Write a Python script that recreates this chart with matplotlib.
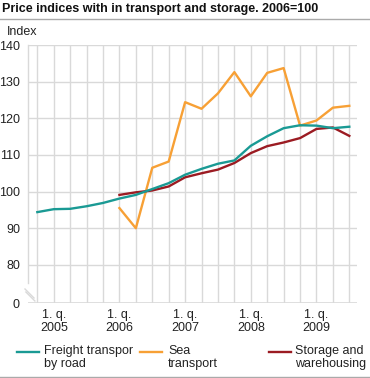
import numpy as np
import matplotlib.pyplot as plt
from matplotlib.lines import Line2D

plt.rcParams['font.family'] = ['Liberation Sans', 'DejaVu Sans']

# quarters 2004 Q4 .. 2009 Q3
quarters = list(range(20))
tick_pos = [1, 5, 9, 13, 17]
tick_labels = ["1. q.\n2005", "1. q.\n2006", "1. q.\n2007", "1. q.\n2008", "1. q.\n2009"]

freight = [94.4, 95.2, 95.3, 96.0, 96.9, 98.1, 99.1, 100.7, 102.3, 104.6,
           106.2, 107.6, 108.5, 112.5, 115.1, 117.3, 118.1, 118.0, 117.3, 117.7]
sea = [95.5, 90.0, 106.5, 108.2, 124.4, 122.6, 126.8, 132.6, 126.0, 132.4,
       133.7, 118.0, 119.4, 122.9, 123.4]
storage = [99.1, 99.8, 100.3, 101.4, 103.9, 105.0, 106.0, 107.8, 110.5, 112.4,
           113.4, 114.6, 117.1, 117.5, 115.2]
sea_x = quarters[5:]

ZERO = 69.6   # where "0" sits below the axis break
yticks = [ZERO, 80, 90, 100, 110, 120, 130, 140]
ylabels = ["0", "80", "90", "100", "110", "120", "130", "140"]

c_freight = "#1a9a94"
c_sea = "#f7a035"
c_storage = "#9b1b22"
grid_c = "#d9d9d9"

W, H = 370, 378
fig = plt.figure(figsize=(W / 100, H / 100), dpi=100)

def fx(px):
    return px / W

def fy(py):
    return 1 - py / H

ax = fig.add_axes([fx(28.3), fy(303), fx(356.7) - fx(28.3), fy(45) - fy(303)])
ax.set_xlim(-0.55, 19.45)
ax.set_ylim(ZERO, 140)
for s in ax.spines.values():
    s.set_visible(False)

for q in quarters:
    ax.axvline(q, color=grid_c, lw=1.0, zorder=0)
for v in yticks[1:]:
    ax.axhline(v, color=grid_c, lw=1.0, zorder=0)
ax.axhline(ZERO, color=grid_c, lw=1.2, zorder=0)

ax.plot(quarters, freight, color=c_freight, lw=1.7, zorder=3)
ax.plot(sea_x, sea, color=c_sea, lw=1.7, zorder=2)
ax.plot(sea_x, storage, color=c_storage, lw=1.7, zorder=2)

ax.set_yticks(yticks)
ax.set_yticklabels(ylabels, fontsize=9, color="#222222")
ax.set_xticks(tick_pos)
ax.set_xticklabels(tick_labels, fontsize=9, color="#222222", linespacing=1.2)
ax.tick_params(length=0, pad=4)
ax.tick_params(axis='y', pad=6)

# left axis line with break
fig.add_artist(Line2D([fx(28.3), fx(28.3)], [fy(45), fy(283)], color=grid_c, lw=1.0))
for off in (0, 3):
    fig.add_artist(Line2D([fx(25 + off * 0.3), fx(34 + off * 0.3)],
                          [fy(289 + off), fy(298 + off)], color=grid_c, lw=1.0))

fig.text(fx(2), fy(9), "Price indices with in transport and storage. 2006=100",
         fontsize=9.0, fontweight="bold", va="center", ha="left", color="#111111")
fig.add_artist(Line2D([0, 1], [fy(18.5), fy(18.5)], color="#aaaaaa", lw=1.0))
fig.text(fx(7), fy(32), "Index", fontsize=9, va="center", ha="left", color="#222222")

# legend
legend = [(17, 44, c_freight, "Freight transpor\nby road"),
          (140, 168, c_sea, "Sea\ntransport"),
          (269, 295, c_storage, "Storage and\nwarehousing")]
for x0, xt, col, lab in legend:
    fig.add_artist(Line2D([fx(x0), fx(x0 + 22)], [fy(352), fy(352)], color=col, lw=1.7))
    fig.text(fx(xt), fy(345), lab, fontsize=9, va="top", ha="left",
             color="#222222", linespacing=1.1)

fig.add_artist(Line2D([0, 1], [fy(376.5), fy(376.5)], color="#aaaaaa", lw=1.0))

fig.savefig("out.png", dpi=100)
